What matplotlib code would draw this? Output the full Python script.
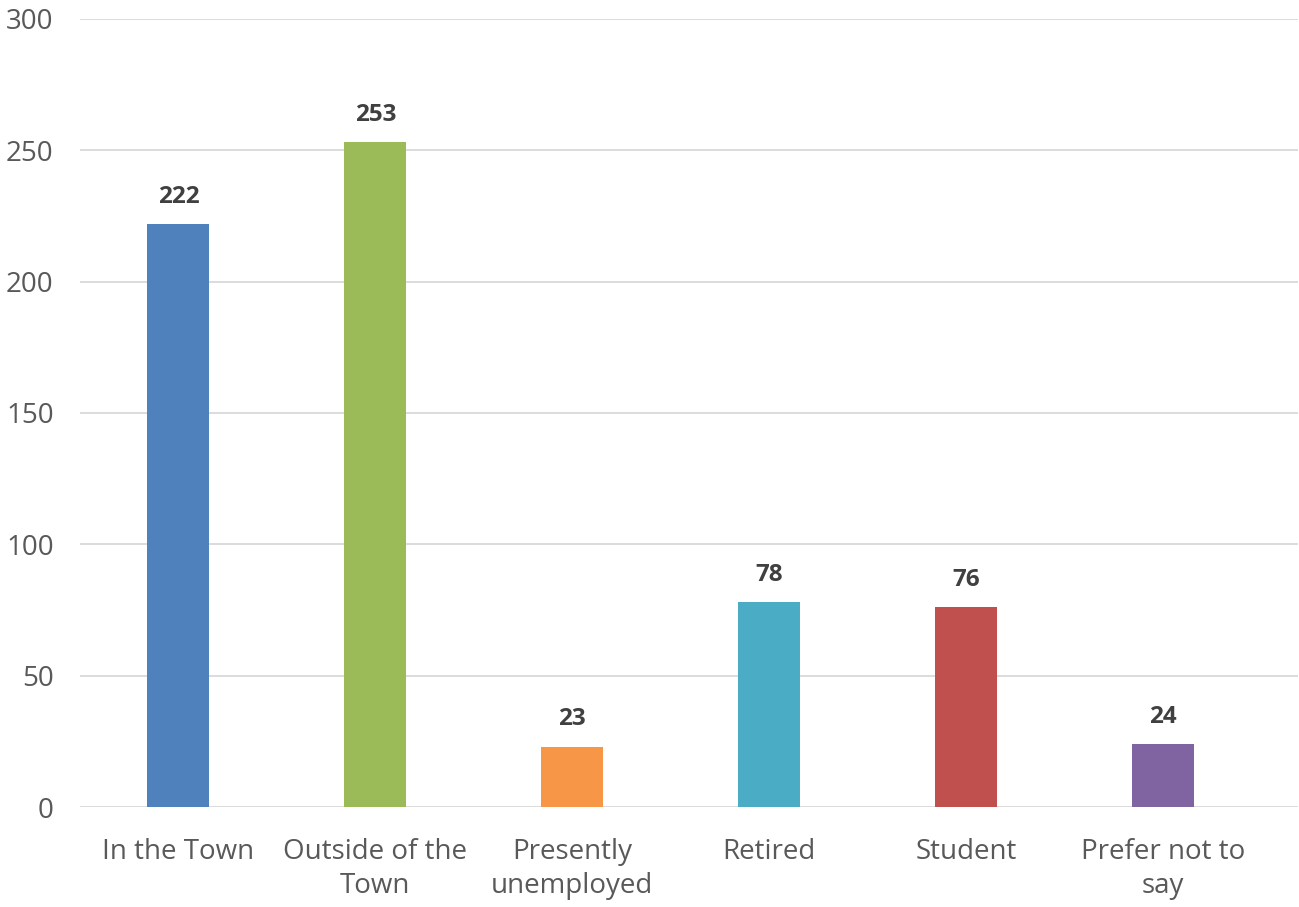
import matplotlib
matplotlib.use("Agg")
import matplotlib.pyplot as plt

categories = ["In the Town", "Outside of the\nTown", "Presently\nunemployed",
              "Retired", "Student", "Prefer not to\nsay"]
counts = [222, 253, 23, 78, 76, 24]
colors = ["#4F81BD", "#9BBB59", "#F79646", "#4BACC6", "#C0504D", "#8064A2"]
y_ticks = [0, 50, 100, 150, 200, 250, 300]

plt.rcParams["font.family"] = ["Open Sans", "DejaVu Sans"]

fig = plt.figure(figsize=(12.99, 9.07), dpi=100)
ax = fig.add_axes([80 / 1299, 1 - 807 / 907, (1298 - 80) / 1299, (807 - 19) / 907])

x = list(range(len(categories)))
bars = ax.bar(x, counts, width=0.315, color=colors, zorder=3)
for b, v in zip(bars, counts):
    ax.annotate(str(v), (b.get_x() + b.get_width() / 2, v), xytext=(0, 11),
                textcoords="offset points", ha="center", va="bottom",
                fontsize=17.5, fontweight="bold", color="#404040")

ax.set_xlim(-0.5, 5.5 + (1298 - 1261.5) / 197)
ax.set_ylim(0, 300)
ax.set_yticks(y_ticks)
ax.set_xticks(x)
ax.set_xticklabels(categories, linespacing=1.3)
ax.tick_params(axis="both", length=0, labelsize=20, labelcolor="#595959")
ax.tick_params(axis="x", pad=22)
ax.tick_params(axis="y", pad=19)
ax.yaxis.grid(True, color="#D9D9D9", linewidth=1.3, zorder=0)
for s in ax.spines.values():
    s.set_visible(False)

fig.savefig("out.png", dpi=100)
